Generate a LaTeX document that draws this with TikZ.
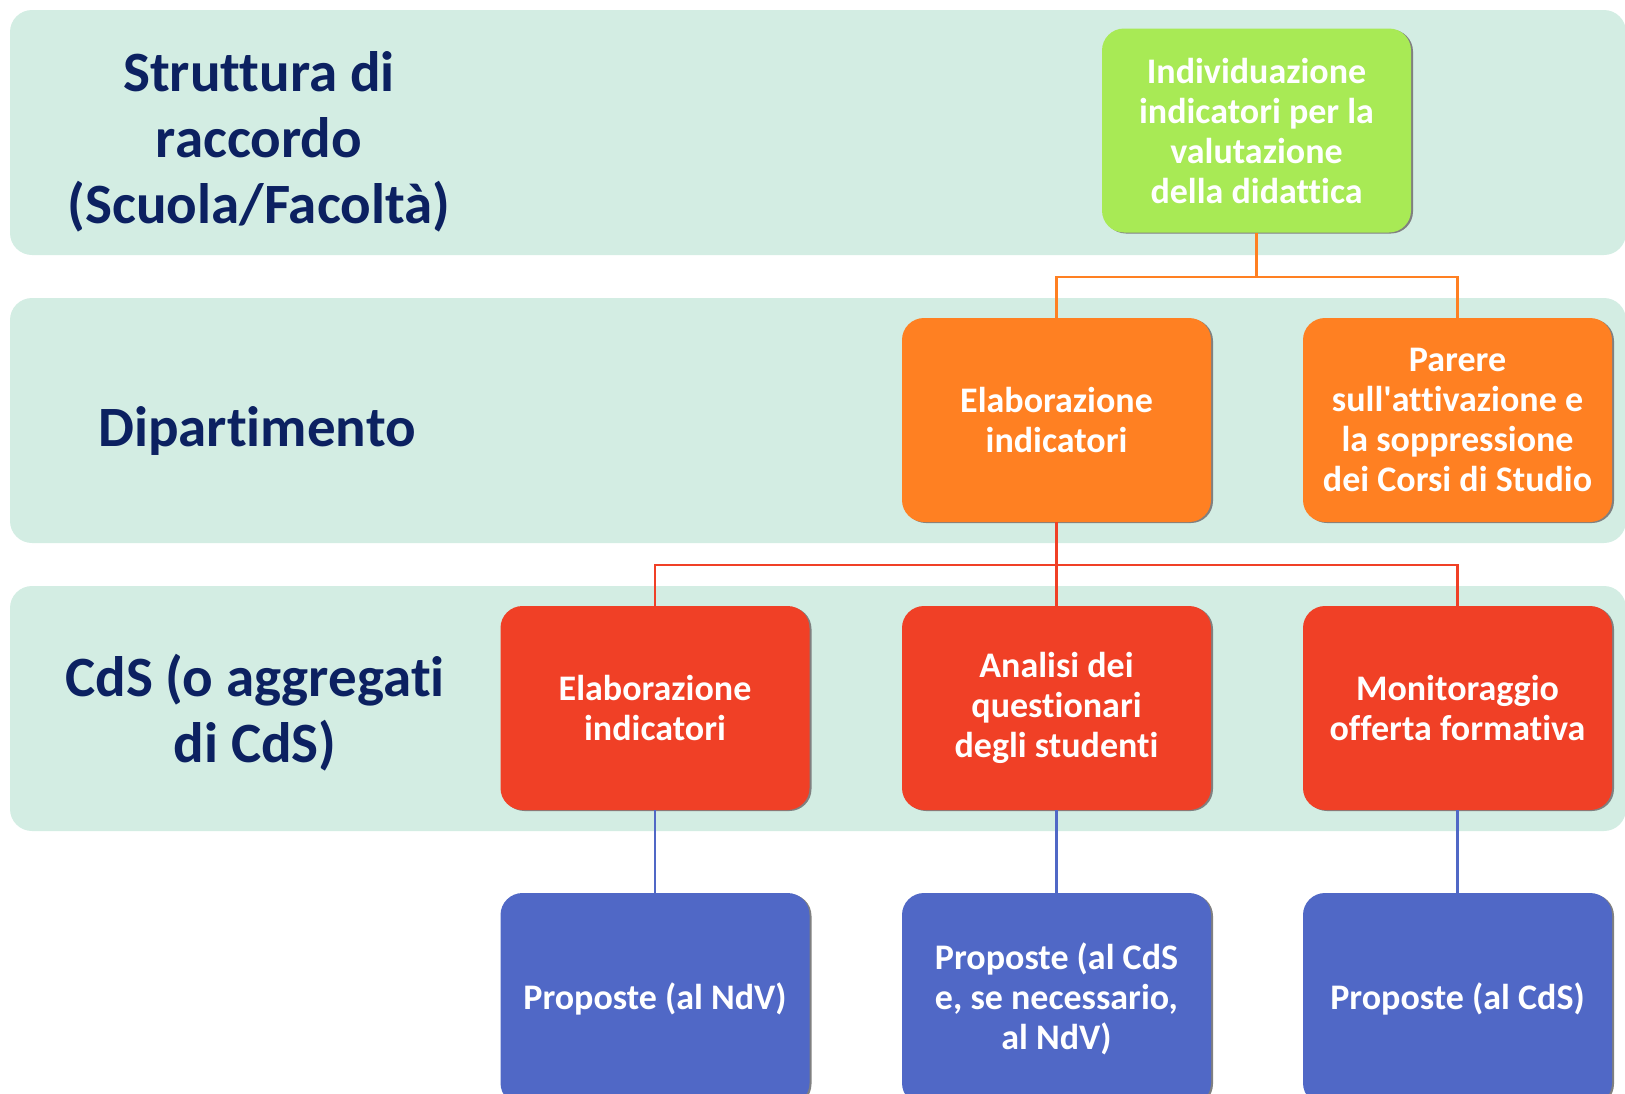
\documentclass[tikz,border=0pt]{standalone}
\usepackage{fontspec}
\setmainfont{Carlito}[Ligatures=NoCommon]
\usetikzlibrary{shadows}

\definecolor{bandfill}{HTML}{D3EDE3}
\definecolor{navytext}{HTML}{0C2161}
\definecolor{greenbox}{HTML}{A8EA55}
\definecolor{orangebox}{HTML}{FF8022}
\definecolor{redbox}{HTML}{F04026}
\definecolor{bluebox}{HTML}{5068C6}

\tikzset{
    band/.style={fill=bandfill, rounded corners=22pt},
    level/.style={text=navytext, align=center, font=\fontsize{57}{66}\selectfont\bfseries},
    box/.style={rounded corners=22pt, minimum width=309pt, minimum height=204pt,
        align=center, inner sep=0pt, text=white,
        font=\fontsize{36}{40}\selectfont\bfseries,
        drop shadow={shadow xshift=2pt, shadow yshift=-1pt, fill=black!50, opacity=1}},
    lowbox/.style={box, minimum height=212pt},
    wire/.style={line width=2.5pt},
}

\begin{document}
\begin{tikzpicture}[x=1pt, y=-1pt]
        \useasboundingbox (0,0) rectangle (1625,1093);
        \clip (0,0) rectangle (1625,1093);

        % bands
        \fill[band] (10,10) rectangle (1626,255);
        \fill[band] (10,298) rectangle (1626,543);
        \fill[band] (10,586) rectangle (1626,831);

        \node[level] (lvlsr) at (259,142) {Struttura di\\raccordo\\(Scuola/Facoltà)};
        \node[level] (lvldip) at (257,431) {Dipartimento};
        \node[level] (lvlcds) at (255,713) {CdS (o aggregati\\di CdS)};

        \node[box, fill=greenbox] (indiv) at (1256.5,130.5)
            {Individuazione\\indicatori per la\\valutazione\\della didattica};

        \node[box, fill=orangebox] (elabdip) at (1056.5,420) {Elaborazione\\indicatori};
        \node[box, fill=orangebox] (parere) at (1457.5,420)
            {Parere\\sull\textquotesingle attivazione e\\la soppressione\\dei Corsi di Studio};

        \node[box, fill=redbox] (elabcds) at (655,708) {Elaborazione\\indicatori};
        \node[box, fill=redbox] (analisi) at (1056.5,708) {Analisi dei\\questionari\\degli studenti};
        \node[box, fill=redbox] (monit) at (1457.5,708) {Monitoraggio\\offerta formativa};

        \node[lowbox, fill=bluebox] (propndv) at (655,999) {Proposte (al NdV)};
        \node[lowbox, fill=bluebox] (propmix) at (1056.5,999) {Proposte (al CdS\\e, se necessario,\\al NdV)};
        \node[lowbox, fill=bluebox] (propcds) at (1457.5,999) {Proposte (al CdS)};

        \coordinate (busdip) at (0,277);
        \coordinate (buscds) at (0,565);

        \draw[wire, orangebox] (indiv.south) -- (indiv.south |- busdip) -| (elabdip.north);
        \draw[wire, orangebox] (indiv.south |- busdip) -| (parere.north);

        \draw[wire, redbox] (elabdip.south) -- (analisi.north);
        \draw[wire, redbox] (elabdip.south |- buscds) -| (elabcds.north);
        \draw[wire, redbox] (elabdip.south |- buscds) -| (monit.north);

        \draw[wire, bluebox] (elabcds.south) -- (propndv.north);
        \draw[wire, bluebox] (analisi.south) -- (propmix.north);
        \draw[wire, bluebox] (monit.south) -- (propcds.north);
    \end{tikzpicture}
\end{document}
